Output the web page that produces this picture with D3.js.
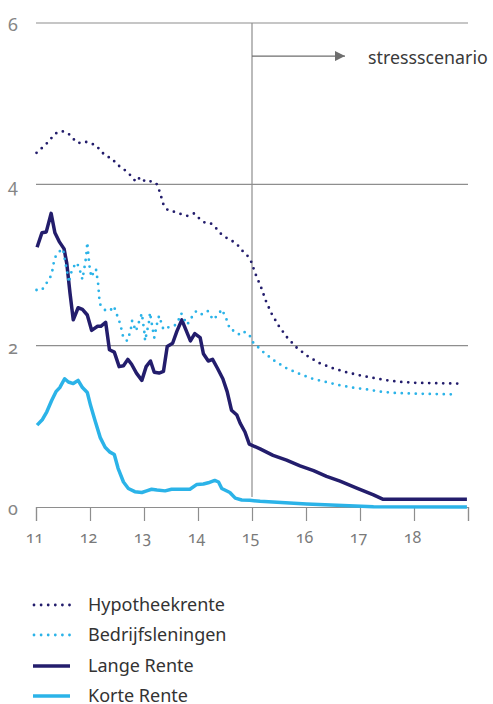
<!DOCTYPE html>
<html>
<head>
<meta charset="utf-8">
<script src="https://cdn.jsdelivr.net/npm/d3@7"></script>
<style>
  html, body { margin: 0; padding: 0; background: #fff; }
  svg { display: block; font-family: "Noto Sans", "Open Sans", sans-serif; }
  .num { font-variant-numeric: oldstyle-nums; }
</style>
</head>
<body>
<svg id="chart" width="493" height="704"></svg>
<script>
// ---- Data (time in years: 11 = 2011 ... 19 = 2019; values in %) ----
const hypotheekT = [11.01,11.19,11.36,11.48,11.60,11.68,11.78,11.90,12.01,12.12,12.20,12.30,12.41,12.48,12.57,12.68,12.78,12.85,12.93,13.03,13.15,13.24,13.29,13.36,13.44,13.56,13.69,13.80,13.93,14.02,14.11,14.23,14.33,14.42,14.52,14.63,14.73,14.83,14.91,14.98,15.07,15.17,15.26,15.36,15.49,15.64,15.82,16.03,16.26,16.50,16.75,17.01,17.25,17.51,17.77,18.02,18.41,18.81];
const hypotheekV = [4.39,4.50,4.63,4.66,4.63,4.57,4.51,4.53,4.51,4.48,4.41,4.35,4.32,4.26,4.21,4.16,4.09,4.03,4.09,4.03,4.04,4.00,3.91,3.75,3.68,3.66,3.63,3.61,3.64,3.58,3.53,3.52,3.46,3.39,3.34,3.30,3.25,3.17,3.12,3.05,2.88,2.72,2.55,2.40,2.25,2.11,1.98,1.87,1.78,1.72,1.67,1.63,1.60,1.57,1.55,1.54,1.535,1.53];

const bedrijfT = [11.01,11.11,11.19,11.26,11.30,11.32,11.35,11.42,11.50,11.54,11.57,11.59,11.61,11.64,11.68,11.75,11.80,11.83,11.86,11.89,11.91,11.93,11.94,11.95,11.97,12.00,12.03,12.07,12.11,12.13,12.15,12.16,12.17,12.19,12.28,12.37,12.44,12.48,12.52,12.56,12.59,12.62,12.69,12.73,12.76,12.78,12.85,12.93,12.96,13.01,13.02,13.10,13.11,13.17,13.19,13.25,13.28,13.36,13.46,13.57,13.64,13.69,13.80,13.91,13.97,14.07,14.18,14.28,14.38,14.44,14.50,14.55,14.59,14.69,14.78,14.87,14.96,15.02,15.21,15.42,15.64,15.88,16.12,16.37,16.62,16.87,17.13,17.38,17.63,18.02,18.41,18.79];
const bedrijfV = [2.69,2.69,2.77,2.84,2.92,3.00,3.09,3.16,3.20,3.04,2.94,2.87,2.78,2.88,2.96,3.03,2.97,2.89,2.82,2.94,3.02,3.11,3.20,3.28,3.12,2.93,2.85,2.92,2.95,2.86,2.77,2.69,2.60,2.51,2.44,2.43,2.49,2.42,2.34,2.27,2.18,2.09,2.06,2.14,2.22,2.31,2.18,2.34,2.40,2.15,2.06,2.32,2.41,2.17,2.10,2.30,2.37,2.20,2.23,2.25,2.32,2.40,2.26,2.38,2.43,2.39,2.43,2.32,2.39,2.45,2.37,2.29,2.20,2.18,2.13,2.17,2.12,2.04,1.92,1.81,1.72,1.65,1.59,1.55,1.51,1.48,1.457,1.43,1.415,1.405,1.40,1.395];

const langeT = [11.02,11.11,11.19,11.28,11.35,11.43,11.52,11.57,11.63,11.69,11.78,11.86,11.95,12.03,12.14,12.20,12.29,12.36,12.45,12.54,12.62,12.70,12.77,12.86,12.96,13.04,13.12,13.19,13.28,13.36,13.43,13.53,13.61,13.70,13.78,13.86,13.94,14.04,14.10,14.19,14.27,14.36,14.46,14.54,14.62,14.72,14.78,14.87,14.95,15.15,15.39,15.64,15.89,16.14,16.38,16.63,16.94,17.25,17.43,18.98];
const langeV = [3.22,3.40,3.41,3.64,3.40,3.29,3.20,3.02,2.65,2.32,2.47,2.45,2.38,2.19,2.24,2.24,2.29,1.95,1.92,1.74,1.75,1.83,1.77,1.66,1.57,1.74,1.81,1.67,1.66,1.68,1.99,2.03,2.18,2.32,2.19,2.06,2.15,2.10,1.90,1.81,1.83,1.72,1.59,1.43,1.20,1.14,1.04,0.93,0.78,0.72,0.64,0.58,0.51,0.45,0.38,0.32,0.235,0.15,0.095,0.095];

const korteT = [11.02,11.12,11.20,11.29,11.37,11.44,11.53,11.60,11.69,11.78,11.86,11.95,12.01,12.09,12.19,12.28,12.37,12.45,12.52,12.62,12.71,12.83,12.96,13.05,13.14,13.24,13.39,13.51,13.70,13.85,13.98,14.10,14.19,14.31,14.38,14.44,14.59,14.69,14.81,14.96,15.15,16.01,17.25,18.98];
const korteV = [1.015,1.085,1.18,1.32,1.43,1.48,1.59,1.55,1.53,1.57,1.48,1.42,1.26,1.08,0.86,0.74,0.68,0.65,0.48,0.31,0.23,0.19,0.18,0.20,0.22,0.21,0.20,0.22,0.22,0.22,0.28,0.285,0.30,0.33,0.31,0.23,0.18,0.11,0.087,0.083,0.07,0.037,0.004,0.0];

const xTicks = [11,12,13,14,15,16,17,18,19];
const xTickLabels = ["11","12","13","14","15","16","17","18",""];
const yTicks = [0,2,4,6];
const stressStart = 15;
const stressLabel = "stressscenario";

const seriesNames = ["Hypotheekrente","Bedrijfsleningen","Lange Rente","Korte Rente"];

// ---- Styles ----
const NAVY = "#231d6c";
const LIGHT = "#2bb3e8";
const GRID = "#8e8e8e";

const series = [
  {name: seriesNames[0], t: hypotheekT, v: hypotheekV, color: NAVY, dotted: true},
  {name: seriesNames[1], t: bedrijfT, v: bedrijfV, color: LIGHT, dotted: true},
  {name: seriesNames[2], t: langeT, v: langeV, color: NAVY, dotted: false},
  {name: seriesNames[3], t: korteT, v: korteV, color: LIGHT, dotted: false}
];

const svg = d3.select("#chart");
const x = d3.scaleLinear().domain([11, 19]).range([36, 468]);
const y = d3.scaleLinear().domain([0, 6]).range([507, 23]);

// grid lines
svg.append("g").selectAll("line").data(yTicks.filter(d => d > 0)).join("line")
  .attr("x1", x(11)).attr("x2", x(19))
  .attr("y1", d => y(d)).attr("y2", d => y(d))
  .attr("stroke", GRID).attr("stroke-width", 1.2);

// y labels
svg.append("g").selectAll("text").data(yTicks).join("text")
  .attr("class", "num")
  .attr("x", 13).attr("y", d => y(d) + 8)
  .attr("text-anchor", "middle")
  .attr("font-size", 18).attr("fill", "#858585")
  .text(d => d);

// x axis
const xAxis = d3.axisBottom(x).tickValues(xTicks).tickSize(14).tickPadding(11)
  .tickFormat((d, i) => xTickLabels[i]);
const gx = svg.append("g").attr("transform", `translate(0,${y(0)})`).call(xAxis);
gx.select(".domain").attr("stroke", GRID).attr("stroke-width", 1.2);
gx.selectAll(".tick line").attr("stroke", GRID).attr("stroke-width", 1.2);
gx.selectAll(".tick text").attr("class", "num")
  .attr("font-family", "Noto Sans, Open Sans, sans-serif")
  .attr("font-size", 16).attr("fill", "#7a7a7a").attr("dx", -2);

// stress scenario vertical line + arrow
svg.append("line")
  .attr("x1", x(stressStart)).attr("x2", x(stressStart))
  .attr("y1", y(6)).attr("y2", y(0) - 10)
  .attr("stroke", GRID).attr("stroke-width", 1.2);

svg.append("defs").append("marker")
  .attr("id", "arrow").attr("viewBox", "0 0 10 10")
  .attr("refX", 10).attr("refY", 5)
  .attr("markerWidth", 11).attr("markerHeight", 10)
  .attr("markerUnits", "userSpaceOnUse")
  .attr("orient", "auto")
  .append("path").attr("d", "M0,0 L10,5 L0,10 Z").attr("fill", "#6e6e6e");

svg.append("line")
  .attr("x1", x(stressStart)).attr("x2", x(stressStart) + 93)
  .attr("y1", y(5.59)).attr("y2", y(5.59))
  .attr("stroke", "#6e6e6e").attr("stroke-width", 1.2)
  .attr("marker-end", "url(#arrow)");

svg.append("text")
  .attr("x", 368).attr("y", 64)
  .attr("font-size", 17.8).attr("fill", "#3a3a3a")
  .text(stressLabel);

// lines
const line = d3.line().x(d => x(d[0])).y(d => y(d[1]));
const drawOrder = [2, 3, 0, 1];
drawOrder.forEach(i => {
  const s = series[i];
  const pts = s.t.map((t, j) => [t, s.v[j]]);
  const p = svg.append("path").datum(pts)
    .attr("d", line)
    .attr("fill", "none")
    .attr("stroke", s.color);
  if (s.dotted) {
    p.attr("stroke-width", 2.8).attr("stroke-dasharray", "0 7").attr("stroke-linecap", "round");
  } else {
    p.attr("stroke-width", 3.5).attr("stroke-linejoin", "round");
  }
});

// legend
const legendY = [605, 635, 666, 696];
const lg = svg.append("g");
series.forEach((s, i) => {
  const ly = legendY[i];
  const l = lg.append("line")
    .attr("x1", 34).attr("x2", 70).attr("y1", ly).attr("y2", ly)
    .attr("stroke", s.color);
  if (s.dotted) {
    l.attr("stroke-width", 2.8).attr("stroke-dasharray", "0 7.1").attr("stroke-linecap", "round");
  } else {
    l.attr("x1", 33).attr("stroke-width", 3.5);
  }
  lg.append("text")
    .attr("x", 88).attr("y", ly + 6)
    .attr("font-size", 18).attr("fill", "#333")
    .text(s.name);
});
</script>
</body>
</html>
